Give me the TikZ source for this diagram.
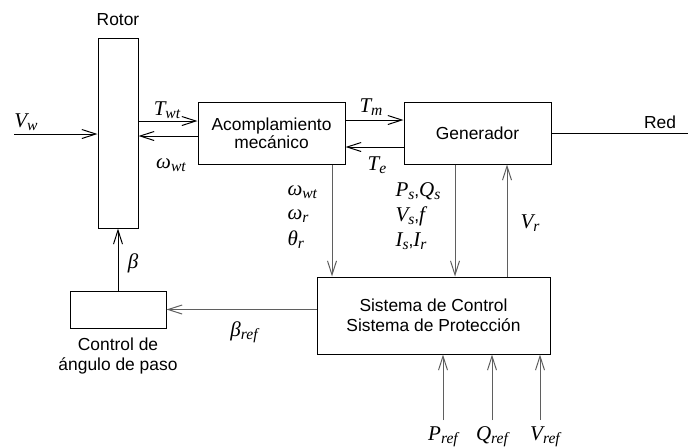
\documentclass[tikz,border=0pt]{standalone}
\usepackage{fontspec}
\setmainfont{Liberation Sans}
\newfontfamily\timesfont{Liberation Serif}
\usepackage{tikz}
\usetikzlibrary{
    positioning,
    arrows.meta
}
\definecolor{sigGray}{RGB}{95, 95, 95}
% signal name with lowered subscript
\newcommand{\sig}[2]{{\timesfont\itshape\fontsize{10.5}{11}\selectfont #1\raisebox{-0.3ex}{\fontsize{7.8}{8}\selectfont #2}}}

\begin{document}
\begin{tikzpicture}[x=0.5pt, y=-0.5pt, line width=0.5pt,
        >={Straight Barb[length=7pt, width=4.5pt]},
        block/.style={draw, inner sep=0pt, align=center, font=\fontsize{8.7}{9}\selectfont},
        lbl/.style={inner sep=0pt, font=\fontsize{8.7}{10}\selectfont},
        sigline/.style={->, draw=sigGray}]
        \useasboundingbox (0, 0) rectangle (688, 447);

        % Blocks
        \node[block, minimum width=20pt, minimum height=95pt] (rotor) at (118, 133) {};
        \node[block, minimum width=73.5pt, minimum height=31pt] (acomp) at (271.5, 133) {Acomplamiento\\mecánico};
        \node[block, minimum width=73.5pt, minimum height=31pt] (gen) at (477.5, 133) {Generador};
        \node[block, minimum width=116.5pt, minimum height=38.5pt, font=\fontsize{8.7}{10}\selectfont] (ctrl) at (433.5, 315.5) {Sistema de Control\\Sistema de Protección};
        \node[block, minimum width=48pt, minimum height=18.5pt] (pitch) at (118, 309.5) {};

        \node[lbl, above=5.5pt of rotor] (rotorTxt) {Rotor};
        \node[lbl, below=4.5pt of pitch, align=center] (pitchTxt) {Control de\\ángulo de paso};

        % Wind and mechanical side
        \coordinate (vw) at (14, 134);
        \draw[->] (vw) -- (vw -| rotor.west);
        \coordinate (twtB) at ([yshift=6pt]acomp.west);
        \draw[->] (twtB -| rotor.east) -- (twtB);
        \coordinate (wwtB) at ([yshift=-1.5pt]acomp.west);
        \draw[->] (wwtB) -- (wwtB -| rotor.east);
        \coordinate (tmB) at ([yshift=6.5pt]gen.west);
        \draw[->] (tmB -| acomp.east) -- (tmB);
        \coordinate (teB) at ([yshift=-7pt]gen.west);
        \draw[->] (teB) -- (teB -| acomp.east);

        % Grid
        \coordinate (red) at (688, 133);
        \draw (gen.east) -- (red);

        % Measurements to the controller
        \coordinate (wB) at ([xshift=30.25pt]acomp.south);
        \draw[sigline] (wB) -- (wB |- ctrl.north);
        \coordinate (psB) at ([xshift=-11.25pt]gen.south);
        \draw[sigline] (psB) -- (psB |- ctrl.north);
        \coordinate (vrB) at ([xshift=14.75pt]gen.south);
        \draw[sigline] (vrB |- ctrl.north) -- (vrB);

        % Pitch loop
        \draw[->] (pitch.north) -- (rotor.south);
        \draw[sigline] (pitch.east -| ctrl.west) -- (pitch.east);

        % References
        \foreach \n/\x in {pref/443, qref/492, vref/540} {
            \coordinate (\n) at (\x, 420);
            \draw[sigline] (\n) -- (\n |- ctrl.south);
        }

        % Labels
        \node[lbl] (vwTxt) at (26, 122) {\sig{V}{w}};
        \node[lbl] (twtTxt) at (167, 110) {\sig{T}{wt}};
        \node[lbl] (wwtTxt) at (171, 165) {\sig{ω}{wt}};
        \node[lbl] (tmTxt) at (371, 107) {\sig{T}{m}};
        \node[lbl] (teTxt) at (377, 165) {\sig{T}{e}};
        \node[lbl] (redTxt) at (660, 122) {Red};
        \node[lbl, anchor=west] (wwtDn) at (287, 192) {\sig{ω}{wt}};
        \node[lbl, anchor=west] (wrDn) at (287, 216) {\sig{ω}{r}};
        \node[lbl, anchor=west] (thDn) at (287, 240) {\sig{θ}{r}};
        \node[lbl, anchor=west] (psTxt) at (395, 191) {\sig{P}{s},\sig{Q}{s}};
        \node[lbl, anchor=west] (vsTxt) at (395, 216) {\sig{V}{s},\sig{f}{}};
        \node[lbl, anchor=west] (isTxt) at (395, 241) {\sig{I}{s},\sig{I}{r}};
        \node[lbl] (vrTxt) at (530, 223) {\sig{V}{r}};
        \node[lbl] (betaTxt) at (133, 263) {\sig{β}{}};
        \node[lbl] (brefTxt) at (244, 332) {\sig{β}{ref}};
        \node[lbl] (prefTxt) at (443, 437) {\sig{P}{ref}};
        \node[lbl] (qrefTxt) at (492, 437) {\sig{Q}{ref}};
        \node[lbl] (vrefTxt) at (545, 437) {\sig{V}{ref}};
    \end{tikzpicture}
\end{document}
